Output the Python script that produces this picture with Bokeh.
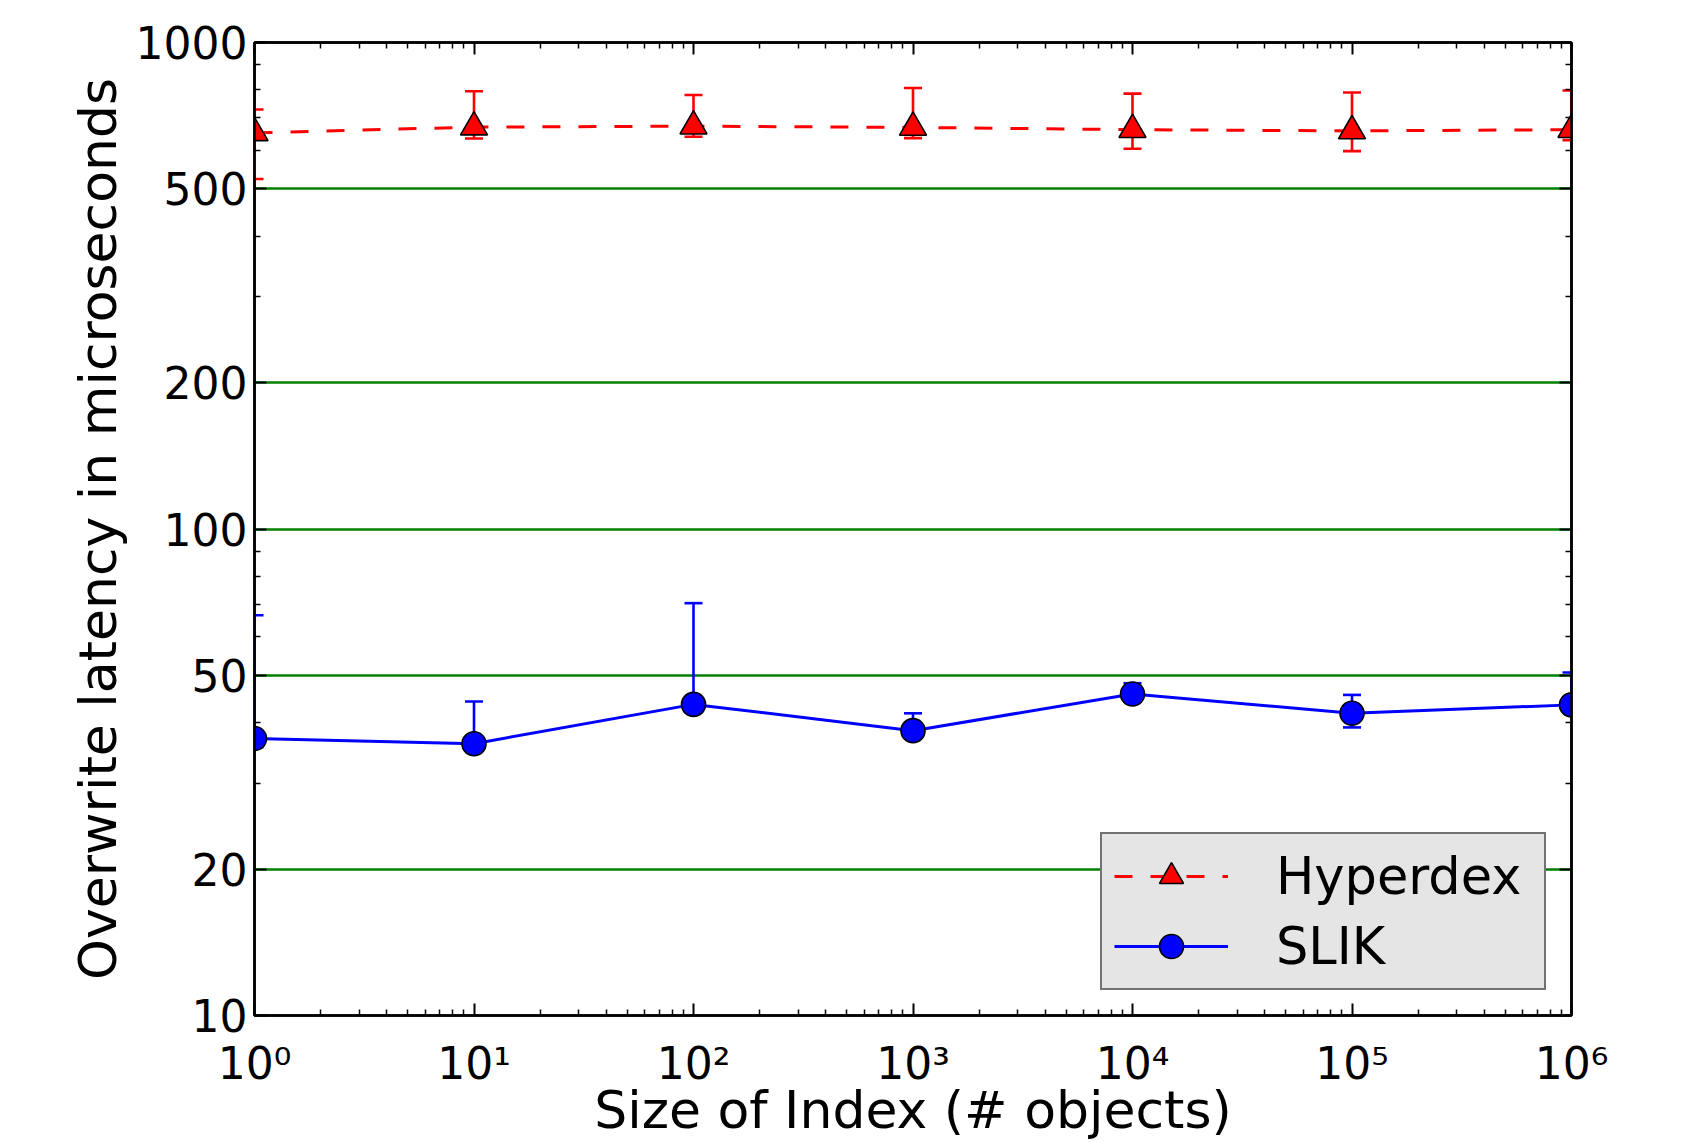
from bokeh.plotting import figure
from bokeh.models import Range1d, FixedTicker, LogAxis, Legend, LegendItem, CustomJSTickFormatter
from bokeh.embed import file_html
from bokeh.resources import INLINE

# ---- data ----
sizes = [1, 10, 100, 1000, 10000, 100000, 1000000]
hyperdex = [652, 670, 673, 669, 662, 658, 662]
hyperdex_upper = [728, 794, 780, 806, 785, 789, 797]
hyperdex_lower = [524, 635, 640, 636, 605, 598, 630]
slik = [37.1, 36.2, 43.6, 38.5, 45.8, 41.8, 43.5]
slik_upper = [66.5, 44.2, 70.4, 41.8, 48.2, 45.6, 50.7]
slik_lower = [35.6, 34.8, 42.0, 37.2, 44.2, 39.1, 42.0]

x_ticks = [1, 10, 100, 1000, 10000, 100000, 1000000]
x_tick_labels = ["10\u2070", "10\u00b9", "10\u00b2", "10\u00b3", "10\u2074", "10\u2075", "10\u2076"]
y_ticks = [10, 20, 50, 100, 200, 500, 1000]
y_tick_labels = ["10", "20", "50", "100", "200", "500", "1000"]

x_minor = [m * 10 ** k for k in range(0, 6) for m in range(2, 10)]
y_minor = [m * 10 ** k for k in range(1, 3) for m in range(2, 10) if m * 10 ** k not in y_ticks]

FONT = "DejaVu Sans"

p = figure(width=1676, height=1142, x_axis_type="log", y_axis_type="log",
           x_range=Range1d(1, 1e6), y_range=Range1d(10, 1000),
           output_backend="svg", toolbar_location=None, title=None,
           min_border_left=254, min_border_right=105, min_border_top=42, min_border_bottom=125)

p.background_fill_color = "white"
p.border_fill_color = "white"
p.outline_line_color = "black"
p.outline_line_width = 2.5

def style_axis(ax, ticks, minor, labels=None):
    ax.ticker = FixedTicker(ticks=ticks, minor_ticks=minor)
    ax.axis_line_color = "black"
    ax.axis_line_width = 2.5
    ax.major_tick_line_color = "black"
    ax.major_tick_line_width = 2
    ax.minor_tick_line_color = "black"
    ax.minor_tick_line_width = 1.5
    ax.major_tick_in = 12
    ax.major_tick_out = 0
    ax.minor_tick_in = 6
    ax.minor_tick_out = 0
    ax.major_label_text_font = FONT
    ax.major_label_text_font_size = "44px"
    ax.major_label_text_color = "black"
    ax.axis_label_text_font = FONT
    ax.axis_label_text_font_style = "normal"
    ax.axis_label_text_color = "black"
    if labels is not None:
        ax.major_label_overrides = dict(zip(ticks, labels))
    else:
        ax.formatter = CustomJSTickFormatter(code="return ''")

xa = p.xaxis[0]
style_axis(xa, x_ticks, x_minor, x_tick_labels)
xa.axis_label = "Size of Index (# objects)"
xa.axis_label_text_font_size = "52px"
xa.major_label_standoff = 22
xa.axis_label_standoff = -12

ya = p.yaxis[0]
style_axis(ya, y_ticks, y_minor, y_tick_labels)
ya.axis_label = "Overwrite latency in microseconds"
ya.axis_label_text_font_size = "52px"
ya.major_label_standoff = 7
ya.axis_label_standoff = 5

right = LogAxis()
style_axis(right, y_ticks, y_minor)
p.add_layout(right, "right")
top = LogAxis()
style_axis(top, x_ticks, x_minor)
p.add_layout(top, "above")

p.xgrid.visible = False
p.ygrid.ticker = FixedTicker(ticks=y_ticks)
p.ygrid.grid_line_color = "green"
p.ygrid.grid_line_width = 2.4
p.ygrid.grid_line_alpha = 1.0

# ---- Hyperdex ----
p.segment(x0=sizes, y0=hyperdex_lower, x1=sizes, y1=hyperdex_upper, line_color="red", line_width=2.6)
p.scatter(x=sizes + sizes, y=hyperdex_upper + hyperdex_lower, marker="dash", size=18,
          line_color="red", line_width=2.6)
line_h = p.line(sizes, hyperdex, line_color="red", line_width=3, line_dash="18 18")
mark_h = p.scatter(sizes, hyperdex, marker="triangle", size=27, fill_color="red",
                   line_color="black", line_width=1.6)

# ---- SLIK ----
p.segment(x0=sizes, y0=slik_lower, x1=sizes, y1=slik_upper, line_color="blue", line_width=2.6)
p.scatter(x=sizes + sizes, y=slik_upper + slik_lower, marker="dash", size=18,
          line_color="blue", line_width=2.6)
line_s = p.line(sizes, slik, line_color="blue", line_width=3)
mark_s = p.scatter(sizes, slik, marker="circle", size=24, fill_color="blue",
                   line_color="black", line_width=1.6)

legend = Legend(items=[LegendItem(label="Hyperdex", renderers=[line_h, mark_h]),
                       LegendItem(label="SLIK", renderers=[line_s, mark_s])],
                location="bottom_right")
legend.margin = 25
legend.padding = 12
legend.spacing = 10
legend.glyph_width = 114
legend.glyph_height = 60
legend.label_standoff = 48
legend.label_width = 256
legend.label_text_font = FONT
legend.label_text_font_size = "51px"
legend.label_text_color = "black"
legend.background_fill_color = "#e5e5e5"
legend.background_fill_alpha = 1.0
legend.border_line_color = "black"
legend.border_line_width = 2.5
p.add_layout(legend)

open("out.html", "w").write(file_html(p, INLINE))
